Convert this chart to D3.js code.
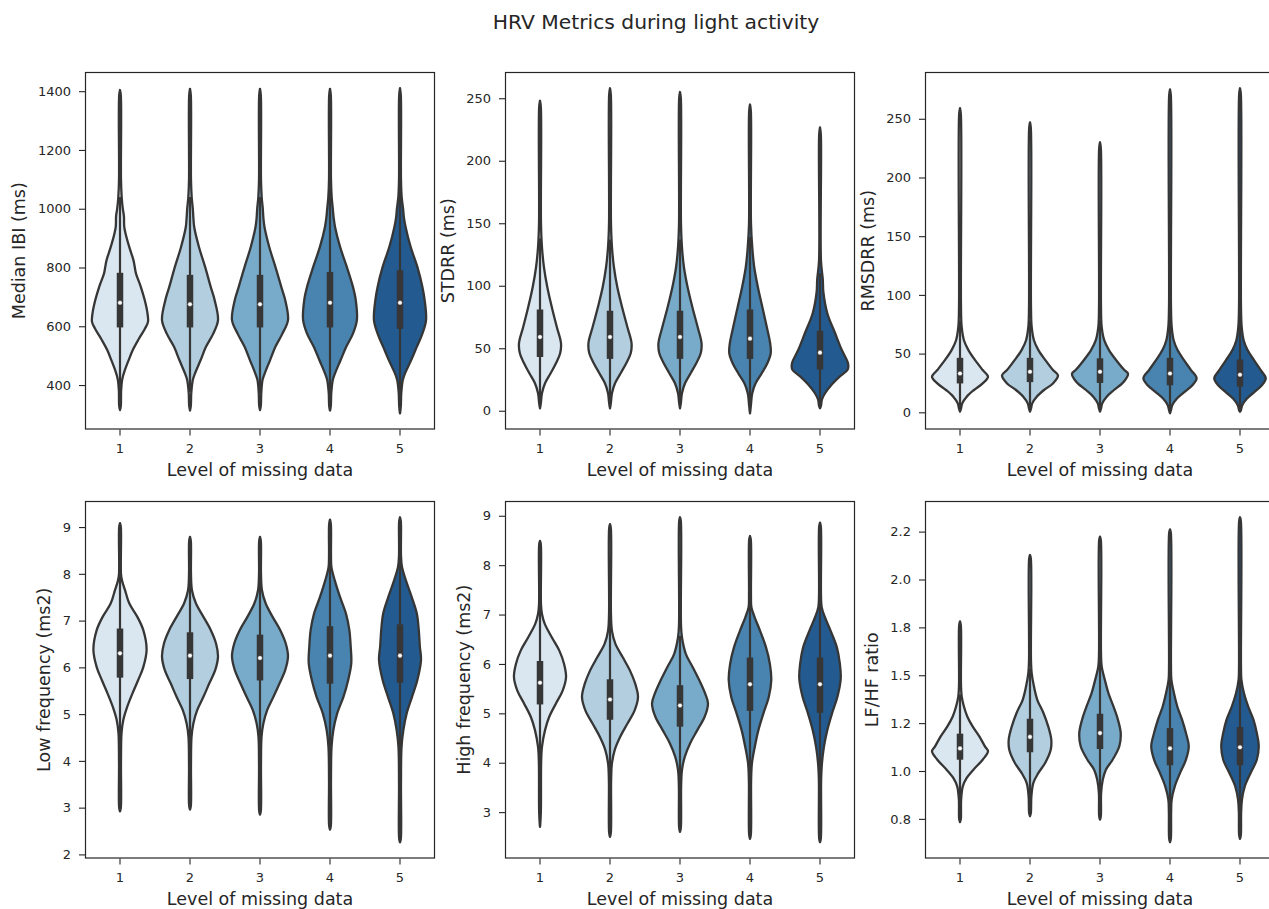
<!DOCTYPE html>
<html><head><meta charset="utf-8">
<script src="https://cdn.jsdelivr.net/npm/d3@7"></script>
<style>
body{margin:0;background:#fff}
text{font-family:"DejaVu Sans",sans-serif;fill:#262626}
</style>
</head><body>
<svg id="chart" width="1269" height="909"></svg>
<script>
// ---------------- DATA ----------------
const chartTitle = "HRV Metrics during light activity";
const categories = ["1", "2", "3", "4", "5"];
const xAxisLabel = "Level of missing data";
const yAxisLabels = ["Median IBI (ms)", "STDRR (ms)", "RMSDRR (ms)",
                     "Low frequency (ms2)", "High frequency (ms2)", "LF/HF ratio"];

// violin outlines: [value, relative density width]
const ibiShapes = [
  [[1404,0],[1385,0.03],[1100,0.035],[1040,0.06],[1000,0.1],[975,0.14],[940,0.15],[915,0.2],[870,0.33],[825,0.48],[800,0.53],[780,0.57],[735,0.74],[690,0.88],[645,0.98],[615,1.0],[590,0.88],[555,0.66],[520,0.46],[485,0.31],[450,0.17],[420,0.08],[380,0.04],[330,0.03],[315,0]],
  [[1408,0],[1385,0.03],[1100,0.035],[1040,0.06],[1000,0.1],[970,0.12],[938,0.15],[870,0.32],[802,0.54],[734,0.74],[689,0.88],[621,1.0],[575,0.83],[530,0.57],[485,0.38],[440,0.18],[417,0.1],[372,0.045],[330,0.03],[313,0]],
  [[1408,0],[1385,0.03],[1100,0.035],[1040,0.06],[1000,0.1],[970,0.12],[938,0.16],[870,0.33],[802,0.55],[734,0.76],[689,0.9],[621,1.0],[575,0.8],[530,0.55],[485,0.36],[440,0.17],[417,0.09],[372,0.045],[330,0.03],[315,0]],
  [[1408,0],[1385,0.03],[1100,0.035],[1040,0.06],[1000,0.1],[970,0.13],[938,0.18],[870,0.36],[802,0.6],[734,0.82],[689,0.92],[621,0.96],[575,0.82],[530,0.58],[485,0.38],[440,0.18],[417,0.1],[372,0.045],[330,0.03],[313,0]],
  [[1410,0],[1385,0.03],[1100,0.035],[1040,0.06],[1000,0.11],[970,0.14],[938,0.2],[870,0.38],[802,0.62],[734,0.8],[689,0.88],[621,0.93],[575,0.8],[530,0.6],[485,0.4],[440,0.18],[417,0.1],[372,0.045],[330,0.03],[304,0]]
];
// box stats: [whisker low, q1, median, q3, whisker high]
const ibiBoxes = [[318,596,680,782,1040],[377,596,675,775,1040],[372,596,675,775,1040],[313,596,680,785,1068],[304,591,680,791,1090]];

const stdrrShapes = [
  [[248,0],[243,0.03],[150,0.035],[131,0.07],[115,0.14],[99,0.26],[83,0.42],[67,0.6],[54,0.75],[46,0.72],[38,0.57],[30,0.38],[22,0.18],[14,0.07],[7,0.035],[2,0]],
  [[258,0],[253,0.03],[150,0.035],[131,0.07],[115,0.14],[99,0.26],[83,0.43],[67,0.62],[54,0.77],[46,0.74],[38,0.58],[30,0.38],[22,0.18],[14,0.07],[7,0.035],[2,0]],
  [[255,0],[250,0.03],[150,0.035],[131,0.07],[115,0.14],[99,0.27],[83,0.44],[67,0.63],[54,0.77],[46,0.74],[38,0.58],[30,0.38],[22,0.18],[14,0.07],[7,0.035],[2,0]],
  [[245,0],[240,0.03],[150,0.035],[131,0.08],[115,0.15],[99,0.28],[83,0.44],[67,0.6],[54,0.72],[46,0.74],[38,0.62],[30,0.42],[22,0.2],[14,0.08],[5,0.035],[-2,0]],
  [[226.6,0],[221,0.03],[120,0.035],[105,0.1],[95,0.12],[78,0.26],[62,0.54],[49,0.77],[38,1.0],[33,0.99],[27.5,0.71],[21,0.42],[14,0.18],[9,0.07],[4,0.035],[2,0]]
];
const stdrrBoxes = [[3,43,59,81,138],[3,41.5,59,80,137],[4,41.5,59,80,137],[-1,41.5,57.7,81,139],[2,33,46.5,64,110]];

const rmsdrrShapes = [
  [[259,0],[254,0.03],[90,0.035],[72.7,0.06],[61.4,0.14],[53,0.3],[44.4,0.54],[36,0.81],[30.3,1.0],[24.6,0.81],[19,0.5],[13.3,0.24],[7.6,0.08],[3,0.035],[0.6,0]],
  [[247,0],[242,0.03],[90,0.035],[72.7,0.06],[61.4,0.14],[53,0.3],[44.4,0.55],[36,0.82],[31.5,1.0],[24.6,0.82],[19,0.5],[13.3,0.24],[7.6,0.08],[3,0.035],[0.6,0]],
  [[230,0],[225,0.03],[90,0.035],[72.7,0.06],[61.4,0.15],[53,0.32],[44.4,0.58],[36,0.87],[33,1.0],[26,0.85],[19,0.5],[13.3,0.24],[7.6,0.08],[3,0.035],[0.6,0]],
  [[275,0],[270,0.03],[90,0.035],[72.7,0.06],[61.4,0.13],[53,0.27],[44.4,0.5],[36,0.75],[29,0.95],[23,0.8],[17,0.5],[11.5,0.24],[6,0.08],[2,0.035],[-0.8,0]],
  [[276,0],[271,0.03],[90,0.035],[72.7,0.06],[61.4,0.13],[53,0.27],[44.4,0.5],[36,0.74],[29,0.92],[23,0.78],[17,0.5],[11.5,0.24],[6,0.08],[2,0.035],[0.5,0]]
];
const rmsdrrBoxes = [[1,24.6,33,46.4,78],[1,25.7,34.5,46.4,78],[1,25,34.5,46,78],[-0.5,23,33,46.4,81],[0.5,22,32,45,80]];

const lfShapes = [
  [[9.085,0],[9.0,0.03],[8.0,0.035],[7.86,0.07],[7.65,0.18],[7.37,0.33],[7.08,0.62],[6.8,0.83],[6.37,0.95],[6.0,0.83],[5.73,0.65],[5.45,0.45],[5.16,0.26],[4.88,0.12],[4.6,0.055],[3.95,0.035],[3.0,0.03],[2.92,0]],
  [[8.79,0],[8.7,0.03],[8.0,0.035],[7.65,0.07],[7.37,0.21],[7.08,0.48],[6.8,0.74],[6.51,0.93],[6.23,1.0],[5.94,0.9],[5.66,0.69],[5.37,0.48],[5.09,0.26],[4.8,0.12],[4.52,0.055],[3.9,0.035],[3.04,0.03],[2.96,0]],
  [[8.79,0],[8.7,0.03],[8.0,0.035],[7.65,0.07],[7.37,0.2],[7.08,0.45],[6.8,0.72],[6.51,0.92],[6.23,1.0],[5.94,0.9],[5.66,0.7],[5.37,0.48],[5.09,0.26],[4.8,0.12],[4.52,0.055],[3.9,0.035],[2.93,0.03],[2.85,0]],
  [[9.16,0],[9.07,0.03],[8.4,0.035],[8.15,0.05],[7.86,0.17],[7.5,0.36],[7.15,0.57],[6.8,0.69],[6.44,0.74],[6.09,0.76],[5.73,0.65],[5.37,0.48],[5.02,0.26],[4.66,0.12],[4.3,0.055],[3.6,0.035],[2.61,0.03],[2.53,0]],
  [[9.21,0],[9.12,0.03],[8.4,0.035],[8.15,0.07],[7.86,0.21],[7.5,0.42],[7.15,0.6],[6.8,0.67],[6.44,0.71],[6.16,0.75],[5.73,0.62],[5.37,0.43],[5.02,0.24],[4.66,0.12],[4.3,0.055],[3.5,0.035],[2.34,0.03],[2.26,0]]
];
const lfBoxes = [[4.2,5.78,6.3,6.83,8.4],[4.25,5.75,6.25,6.75,7.93],[4.25,5.72,6.2,6.7,7.85],[3.8,5.65,6.25,6.88,8.7],[3.8,5.67,6.25,6.92,8.8]];

const hfShapes = [
  [[8.49,0],[8.41,0.03],[7.2,0.035],[7.01,0.07],[6.81,0.17],[6.54,0.42],[6.27,0.69],[6.0,0.86],[5.73,0.93],[5.46,0.81],[5.2,0.57],[4.93,0.33],[4.66,0.18],[4.32,0.07],[3.99,0.04],[3.0,0.03],[2.7,0]],
  [[8.83,0],[8.75,0.03],[7.0,0.035],[6.67,0.07],[6.41,0.19],[6.14,0.45],[5.87,0.71],[5.6,0.9],[5.33,1.0],[5.06,0.88],[4.79,0.62],[4.52,0.36],[4.26,0.17],[3.99,0.07],[3.65,0.04],[2.58,0.03],[2.5,0]],
  [[8.97,0],[8.89,0.03],[6.8,0.035],[6.54,0.07],[6.2,0.21],[5.94,0.45],[5.67,0.69],[5.4,0.9],[5.2,1.0],[4.93,0.88],[4.66,0.62],[4.39,0.36],[4.12,0.17],[3.85,0.07],[3.52,0.04],[2.68,0.03],[2.6,0]],
  [[8.59,0],[8.51,0.03],[7.4,0.035],[7.15,0.05],[6.94,0.17],[6.67,0.36],[6.34,0.57],[6.0,0.71],[5.67,0.76],[5.33,0.67],[5.0,0.48],[4.66,0.3],[4.32,0.17],[3.99,0.07],[3.65,0.04],[2.54,0.03],[2.46,0]],
  [[8.86,0],[8.78,0.03],[7.4,0.035],[7.15,0.06],[6.94,0.18],[6.67,0.38],[6.34,0.6],[6.0,0.71],[5.7,0.74],[5.33,0.62],[5.0,0.43],[4.66,0.26],[4.32,0.14],[3.99,0.07],[3.65,0.04],[2.47,0.03],[2.39,0]]
];
const hfBoxes = [[2.72,5.18,5.62,6.06,8.47],[3.64,4.87,5.28,5.69,6.9],[3.5,4.73,5.16,5.57,6.57],[3.43,5.05,5.59,6.13,7.75],[3.33,5.01,5.59,6.13,7.8]];

const ratioShapes = [
  [[1.781,0],[1.76,0.03],[1.45,0.035],[1.39,0.06],[1.337,0.14],[1.285,0.26],[1.233,0.45],[1.181,0.69],[1.129,0.89],[1.103,1.0],[1.059,0.81],[1.007,0.48],[0.964,0.24],[0.92,0.1],[0.85,0.04],[0.75,0.03],[0.733,0]],
  [[2.128,0],[2.11,0.03],[1.58,0.035],[1.511,0.06],[1.442,0.14],[1.372,0.26],[1.303,0.48],[1.233,0.65],[1.164,0.76],[1.111,0.74],[1.042,0.54],[0.99,0.3],[0.938,0.12],[0.868,0.05],[0.78,0.03],[0.764,0]],
  [[2.224,0],[2.205,0.03],[1.62,0.035],[1.546,0.06],[1.477,0.17],[1.407,0.3],[1.337,0.48],[1.268,0.64],[1.198,0.74],[1.129,0.69],[1.059,0.45],[1.007,0.21],[0.955,0.1],[0.886,0.04],[0.765,0.03],[0.746,0]],
  [[2.262,0],[2.243,0.03],[1.55,0.035],[1.477,0.05],[1.407,0.14],[1.337,0.26],[1.268,0.43],[1.198,0.57],[1.129,0.67],[1.059,0.57],[0.99,0.36],[0.92,0.17],[0.851,0.06],[0.781,0.04],[0.647,0.03],[0.628,0]],
  [[2.325,0],[2.306,0.03],[1.55,0.035],[1.477,0.05],[1.407,0.14],[1.337,0.29],[1.268,0.48],[1.198,0.6],[1.129,0.67],[1.059,0.6],[0.99,0.38],[0.92,0.17],[0.851,0.07],[0.781,0.04],[0.665,0.03],[0.646,0]]
];
const ratioBoxes = [[0.855,1.059,1.118,1.195,1.4],[0.836,1.098,1.178,1.273,1.535],[0.84,1.115,1.198,1.299,1.575],[0.74,1.03,1.118,1.224,1.515],[0.72,1.03,1.124,1.23,1.54]];

// tick values and labels
const ibiTicks = [400, 600, 800, 1000, 1200, 1400];
const stdrrTicks = [0, 50, 100, 150, 200, 250];
const rmsdrrTicks = [0, 50, 100, 150, 200, 250];
const lfTicks = [2, 3, 4, 5, 6, 7, 8, 9];
const hfTicks = [3, 4, 5, 6, 7, 8, 9];
const ratioTicks = [0.75, 1.0, 1.25, 1.5, 1.75, 2.0, 2.25];
const ratioTickLabels = ["0.8", "1.0", "1.2", "1.5", "1.8", "2.0", "2.2"];

// ---------------- STYLE / LAYOUT ----------------
const palette = ["#dae6f0", "#b2cedf", "#78abc9", "#4884af", "#235b91"];
const gray = "#363636";
const ink = "#262626";
const colLeft = [85, 505, 925];
const rowTop = [72, 501];
const pw = 350, ph = 357.5;

const panels = [
  {shapes: ibiShapes, boxes: ibiBoxes, ticks: ibiTicks, labels: null},
  {shapes: stdrrShapes, boxes: stdrrBoxes, ticks: stdrrTicks, labels: null},
  {shapes: rmsdrrShapes, boxes: rmsdrrBoxes, ticks: rmsdrrTicks, labels: null},
  {shapes: lfShapes, boxes: lfBoxes, ticks: lfTicks, labels: null},
  {shapes: hfShapes, boxes: hfBoxes, ticks: hfTicks, labels: null},
  {shapes: ratioShapes, boxes: ratioBoxes, ticks: ratioTicks, labels: ratioTickLabels}
];

const svg = d3.select("#chart");
svg.append("rect").attr("width", 1269).attr("height", 909).attr("fill", "#fff");

svg.append("text").attr("x", 656).attr("y", 29).attr("text-anchor", "middle")
  .attr("font-size", 20.3).text(chartTitle);

panels.forEach((p, k) => {
  const left = colLeft[k % 3], top = rowTop[Math.floor(k / 3)];
  const g = svg.append("g").attr("transform", `translate(${left},${top})`);

  const x = d3.scaleBand().domain(categories).range([0, pw]);
  const vals = p.shapes.flat().map(d => d[0]);
  const [mn, mx] = d3.extent(vals);
  const pad = (mx - mn) * 0.05;
  const y = d3.scaleLinear().domain([mn - pad, mx + pad]).range([ph, 0]);
  const wScale = d3.scaleLinear().domain([0, 1]).range([0, x.bandwidth() * 0.4]);

  p.shapes.forEach((s, i) => {
    const cx = x(categories[i]) + x.bandwidth() / 2;
    const area = d3.area().curve(d3.curveCatmullRom.alpha(0.5))
      .y(d => y(d[0])).x0(d => cx - wScale(d[1])).x1(d => cx + wScale(d[1]));
    g.append("path").attr("d", area(s)).attr("fill", palette[i])
      .attr("stroke", gray).attr("stroke-width", 2.3).attr("stroke-linejoin", "round");
    const b = p.boxes[i];
    g.append("line").attr("x1", cx).attr("x2", cx).attr("y1", y(b[0])).attr("y2", y(b[4]))
      .attr("stroke", gray).attr("stroke-width", 2.2);
    g.append("line").attr("x1", cx).attr("x2", cx).attr("y1", y(b[1])).attr("y2", y(b[3]))
      .attr("stroke", gray).attr("stroke-width", 6.5);
    g.append("circle").attr("cx", cx).attr("cy", y(b[2])).attr("r", 2.3)
      .attr("fill", "#fff").attr("stroke", gray).attr("stroke-width", 0.5);
  });

  const yAxis = d3.axisLeft(y).tickValues(p.ticks).tickSize(6).tickPadding(8)
    .tickFormat((d, i) => p.labels ? p.labels[i] : d3.format("d")(d));
  const ya = g.append("g").call(yAxis);
  const xa = g.append("g").attr("transform", `translate(0,${ph})`)
    .call(d3.axisBottom(x).tickSize(6).tickPadding(8));
  [ya, xa].forEach(a => {
    a.select(".domain").remove();
    a.selectAll("line").attr("stroke", ink).attr("stroke-width", 1.1);
    a.selectAll("text").attr("font-size", 13).attr("font-family", "DejaVu Sans").style("fill", ink);
  });

  let maxW = 0;
  ya.selectAll("text").each(function () { maxW = Math.max(maxW, this.getComputedTextLength()); });

  g.append("text").attr("x", pw / 2).attr("y", ph + 46.5).attr("text-anchor", "middle")
    .attr("font-size", 17.5).text(xAxisLabel);
  g.append("text").attr("transform", `translate(${-(14 + maxW + 12.5)},${ph / 2}) rotate(-90)`)
    .attr("text-anchor", "middle").attr("font-size", 17.5).text(yAxisLabels[k]);

  g.append("rect").attr("x", 0.5).attr("y", 0.5).attr("width", pw - 1).attr("height", ph - 1)
    .attr("fill", "none").attr("stroke", ink).attr("stroke-width", 1.2);
});
</script>
</body></html>
